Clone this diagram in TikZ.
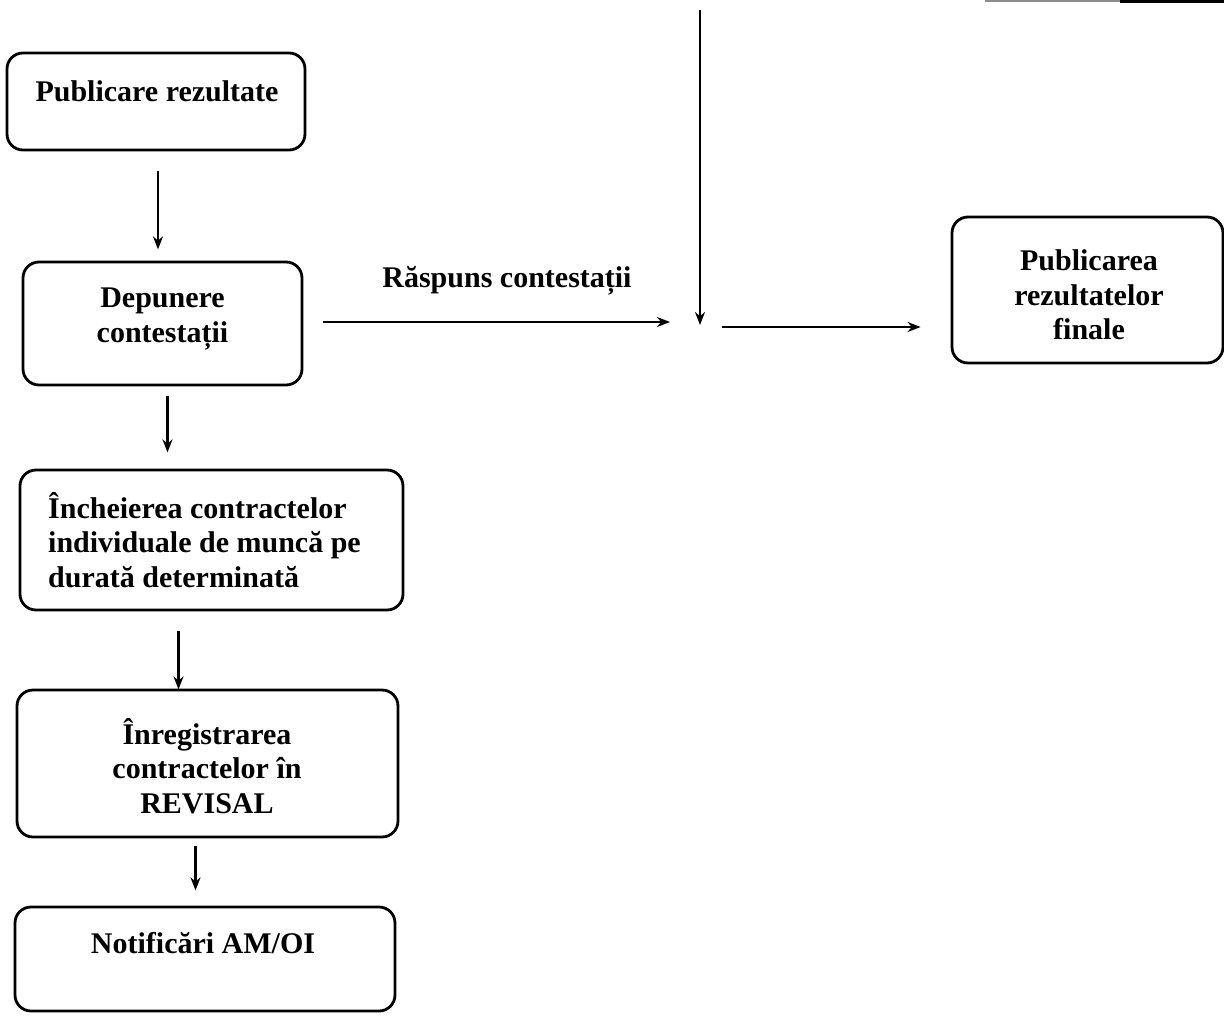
\documentclass[tikz,border=0pt]{standalone}
\usepackage{fontspec}
\setmainfont{Liberation Serif}
\usetikzlibrary{arrows.meta,calc}
\begin{document}
\begin{tikzpicture}[x=1pt,y=-1pt,
  box/.style={draw=black, line width=2.8pt, rounded corners=16pt, inner sep=0pt},
  txt/.style={font=\bfseries\fontsize{30}{34.5}\selectfont, align=center, inner sep=0pt},
  arr/.style={line width=2.4pt, -{Stealth[length=13pt,width=10pt]}}]
\useasboundingbox (0,0) rectangle (1224,1017);
% boxes
\node[box, minimum width=298, minimum height=97] (b1) at (156,101.5) {};
\node[txt] (t1) at (157,91) {Publicare rezultate};
\node[box, minimum width=279, minimum height=123] (b2) at (162.5,323.5) {};
\node[txt] (t2) at (162.5,319) {Depunere\\contestații};
\node[box, minimum width=383, minimum height=140] (b3) at (211.5,540) {};
\node[txt, align=left, anchor=west] (t3) at (48,540) {Încheierea contractelor\\individuale de muncă pe\\durată determinată};
\node[box, minimum width=381, minimum height=147] (b4) at (207.5,763.5) {};
\node[txt] (t4) at (207,766) {Înregistrarea\\contractelor în\\REVISAL};
\node[box, minimum width=380, minimum height=104] (b5) at (205,959) {};
\node[txt] (t5) at (203,943) {Notificări AM/OI};
\node[box, minimum width=271, minimum height=146] (b6) at (1087.5,290) {};
\node[txt] (t6) at (1089,295) {Publicarea\\rezultatelor\\finale};
% junction and free ends
\coordinate (top) at (700,10);
\coordinate (j) at (700,325);
\coordinate (jl) at (670,322);
\coordinate (jr) at (722,327);
\node[txt, anchor=center] (lbl) at (507,281) {Răspuns contestații};
% connectors
\draw[arr] ($(b1.south)+(2,20)$) -- ($(b1.south)+(2,98)$);
\draw[arr] ($(b2.south)+(5,10)$) -- ($(b2.south)+(5,66)$);
\draw[arr] ($(b3.south)+(-33,20)$) -- ($(b3.south)+(-33,78)$);
\draw[arr] ($(b4.south)+(-12,8)$) -- ($(b4.south)+(-12,52)$);
\draw[arr] ($(b2.east)+(20,-1.5)$) -- (jl);
\draw[arr] (top) -- (j);
\draw[arr] (jr) -- ($(b6.west)+(-30,37)$);
% edge of a box cut off at the top right
\draw[line width=2pt, black!45] (985,1) -- (1120,1);
\draw[line width=2.6pt] (1120,1.3) -- (1224,1.3);
\end{tikzpicture}
\end{document}
